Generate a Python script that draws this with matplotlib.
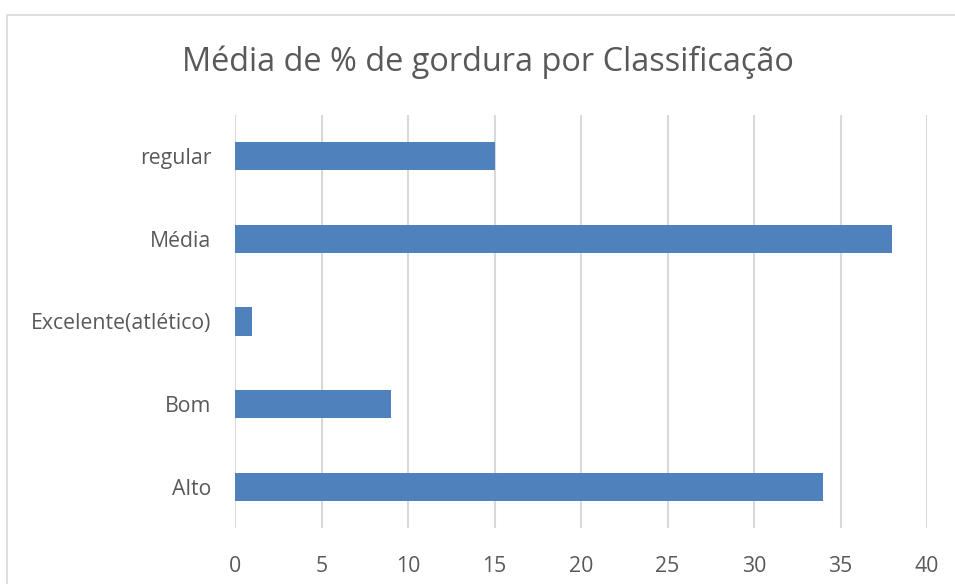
import matplotlib
matplotlib.use('Agg')
import matplotlib.pyplot as plt
from matplotlib.patches import Rectangle

# categories from bottom to top, as in the chart
categorias = ['Alto', 'Bom', 'Excelente(atlético)', 'Média', 'regular']
valores = [34, 9, 1, 38, 15]
xticks = [0, 5, 10, 15, 20, 25, 30, 35, 40]

plt.rcParams['font.family'] = ['Open Sans', 'DejaVu Sans']
cinza = '#595959'

fig = plt.figure(figsize=(9.55, 5.84), dpi=100)
# outer chart frame (cropped at right and bottom)
fig.patches.append(Rectangle((7 / 955, -0.2), 1.2, 1.2 - 15 / 584,
                             transform=fig.transFigure, fill=False,
                             edgecolor='#D9D9D9', linewidth=1.2))

ax = fig.add_axes([235 / 955, 1 - 528 / 584, 692 / 955, 413 / 584])
ax.barh(range(len(categorias)), valores, height=0.34, color='#4F81BD', zorder=3)

ax.set_xlim(0, 40)
ax.set_ylim(-0.5, len(categorias) - 0.5)
ax.set_xticks(xticks)
ax.set_yticks(range(len(categorias)))
ax.set_yticklabels(categorias)
ax.grid(axis='x', color='#D9D9D9', linewidth=1.5, zorder=0)
for s in ax.spines.values():
    s.set_visible(False)
ax.tick_params(axis='both', length=0, labelsize=15.3, colors=cinza)
ax.tick_params(axis='y', pad=17)
ax.tick_params(axis='x', pad=20)

fig.text(488 / 955, 1 - 62 / 584, 'Média de % de gordura por Classificação',
         ha='center', va='center', fontsize=23.4, color=cinza)

plt.savefig('out.png', dpi=100)
